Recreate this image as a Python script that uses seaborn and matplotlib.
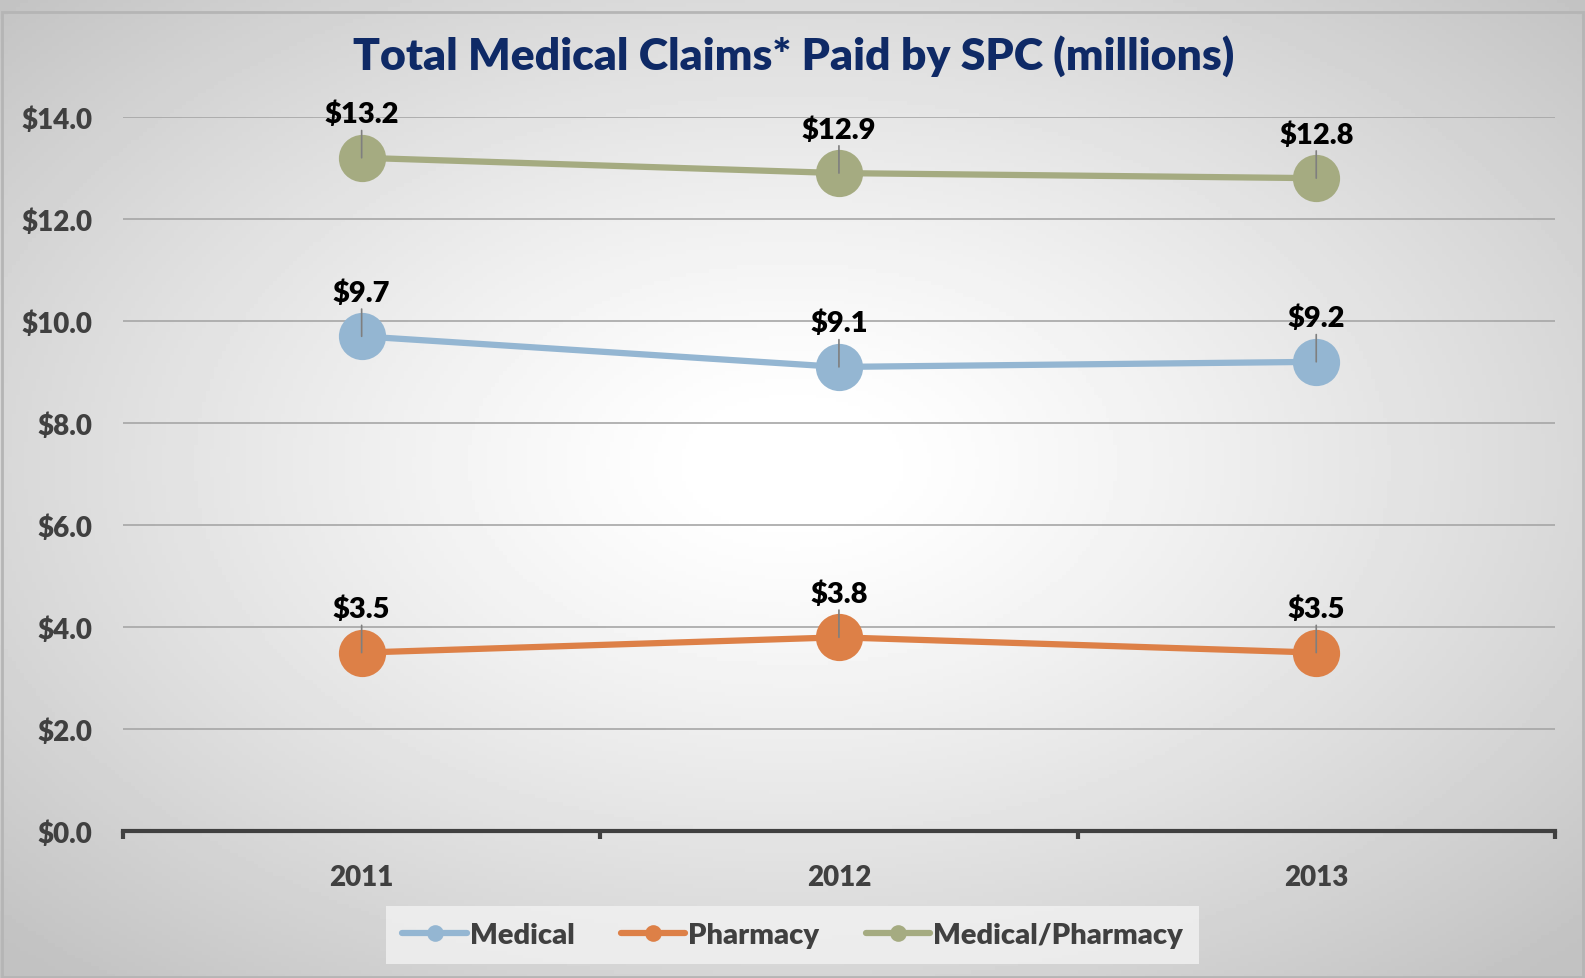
import numpy as np
import pandas as pd
import seaborn as sns
import matplotlib.pyplot as plt
from matplotlib.lines import Line2D

years = ['2011', '2012', '2013']
medical = [9.7, 9.1, 9.2]
pharmacy = [3.5, 3.8, 3.5]
med_pharm = [13.2, 12.9, 12.8]
series_names = ['Medical', 'Pharmacy', 'Medical/Pharmacy']
colors = ['#94b6d2', '#dd8047', '#a5ab81']
yticks = [0, 2, 4, 6, 8, 10, 12, 14]

df = pd.DataFrame({
    'year': years * 3,
    'value': medical + pharmacy + med_pharm,
    'series': [s for s in series_names for _ in years],
})

sns.set_theme(style='white')
plt.rcParams['font.family'] = ['Lato', 'DejaVu Sans']
plt.rcParams['font.weight'] = 'bold'

fig = plt.figure(figsize=(15.85, 9.79), dpi=100)

# radial gradient background
bg = fig.add_axes([0, 0, 1, 1], zorder=-10)
gx, gy = np.meshgrid(np.linspace(-1, 1, 400), np.linspace(-1, 1, 250))
r = np.sqrt(gx ** 2 + ((gy - 0.05) / 1.0) ** 2)
shade = 1.0 - 0.24 * np.clip((r - 0.1) / 1.3, 0, 1) ** 1.2
bg.imshow(shade, cmap='gray', vmin=0, vmax=1, extent=[0, 1, 0, 1], aspect='auto', origin='lower')
bg.add_patch(plt.Rectangle((0.001, 0.001), 0.998, 0.986, fill=False, ec='#b5b5b5', lw=2))
bg.set_xlim(0, 1); bg.set_ylim(0, 1)
bg.axis('off')

ax = fig.add_axes([0.0776, 0.150, 0.9034, 0.7295])
ax.set_facecolor('none')

sns.lineplot(data=df, x='year', y='value', hue='series', palette=colors,
             marker='o', markersize=34, markeredgewidth=0, linewidth=4.5,
             legend=False, ax=ax, zorder=3)

for vals in [medical, pharmacy, med_pharm]:
    for i, v in enumerate(vals):
        ax.annotate(f'${v:.1f}', xy=(i, v), xytext=(0, 22), textcoords='offset points',
                    ha='center', va='bottom', fontsize=21, fontweight='heavy', color='black',
                    arrowprops=dict(arrowstyle='-', color='#7f7f7f', lw=1.2, shrinkA=0, shrinkB=0),
                    zorder=5)

ax.set_xlim(-0.5, 2.5)
ax.set_ylim(0, 14)
ax.set_yticks(yticks)
ax.set_yticklabels([f'${t:.1f}' for t in yticks], fontsize=20, fontweight='heavy', color='#404040')
ax.set_xticks([0, 1, 2])
ax.set_xticklabels(years, fontsize=20, fontweight='heavy', color='#404040')
ax.tick_params(axis='x', length=0, pad=24)
ax.tick_params(axis='y', length=0, pad=22)
for t in yticks[1:]:
    ax.axhline(t, color='#a6a6a6', lw=1.2, zorder=1)
for s in ['top', 'right', 'left']:
    ax.spines[s].set_visible(False)
ax.spines['bottom'].set_color('#404040')
ax.spines['bottom'].set_linewidth(3)
for xb in [-0.5, 0.5, 1.5, 2.5]:
    ax.plot([xb, xb], [0, -0.15], color='#404040', lw=3, clip_on=False, solid_capstyle='butt')
ax.set_xlabel('')
ax.set_ylabel('')

fig.text(0.501, 0.943, 'Total Medical Claims* Paid by SPC (millions)', ha='center', va='center',
         fontsize=32, fontweight='heavy', color='#0f2a66')

handles = [Line2D([0], [0], color=c, lw=4.5, marker='o', markersize=12, markeredgewidth=0)
           for c in colors]
leg = fig.legend(handles, series_names, loc='center', bbox_to_anchor=(0.50, 0.044), ncol=3,
                 frameon=True, fontsize=21, handlelength=2.2, handletextpad=0.1,
                 columnspacing=1.6, borderpad=0.55, fancybox=False)
leg.get_frame().set_facecolor('#f2f2f2')
leg.get_frame().set_edgecolor('none')
for txt in leg.get_texts():
    txt.set_color('#404040')
    txt.set_fontweight('heavy')

fig.savefig('out.png', dpi=100)
